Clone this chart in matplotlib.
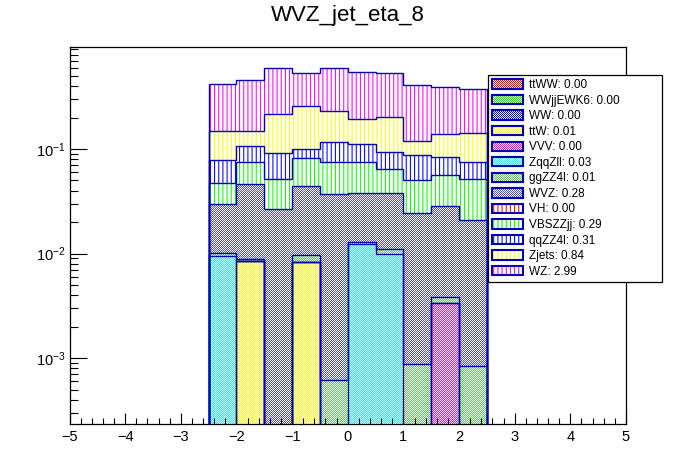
import numpy as np
import matplotlib
matplotlib.use('Agg')
import matplotlib.pyplot as plt
from matplotlib.patches import Patch, PathPatch
from matplotlib.legend_handler import HandlerTuple
from matplotlib.colors import to_rgba
from matplotlib.ticker import MultipleLocator, LogLocator, NullFormatter, LogFormatterSciNotation

plt.rcParams['font.family'] = ['Liberation Sans', 'DejaVu Sans']
plt.rcParams['mathtext.fontset'] = 'custom'
plt.rcParams['mathtext.rm'] = 'Liberation Sans'
plt.rcParams['mathtext.it'] = 'Liberation Sans:italic'
plt.rcParams['mathtext.bf'] = 'Liberation Sans:bold'
plt.rcParams['hatch.linewidth'] = 0.75

# ---------------- data ----------------
title = 'WVZ_jet_eta_8'
bin_edges = [-2.5, -2.0, -1.5, -1.0, -0.5, 0.0, 0.5, 1.0, 1.5, 2.0, 2.5]
processes = ['ttWW', 'WWjjEWK6', 'WW', 'ttW', 'VVV', 'ZqqZll', 'ggZZ4l',
             'WVZ', 'VH', 'VBSZZjj', 'qqZZ4l', 'Zjets', 'WZ']
legend_yields = ['0.00', '0.00', '0.00', '0.01', '0.00', '0.03', '0.01',
                 '0.28', '0.00', '0.29', '0.31', '0.84', '2.99']

ttWW = [0, 0, 0, 0, 0, 0, 0, 0, 0, 0]
WWjjEWK6 = [0, 0, 0, 0, 0, 0, 0, 0, 0, 0]
WW = [0, 0, 0, 0, 0, 0, 0, 0, 0, 0]
ttW = [0, 0.00844, 0, 0.00826, 0, 0, 0, 0, 0, 0]
VVV = [0, 0, 0, 0, 0, 0, 0, 0, 0.00335, 0]
ZqqZll = [0.00955, 0, 0, 0, 0, 0.01227, 0.00985, 0, 0, 0]
ggZZ4l = [0.0005, 0.0005, 0, 0.00137, 0.000615, 0.00055, 0.00115, 0.000874, 0.00047, 0.000837]
WVZ = [0.01955, 0.03706, 0.0265, 0.03437, 0.03629, 0.02488, 0.0267, 0.02343, 0.02448, 0.01996]
VH = [0, 0, 0, 0, 0, 0, 0, 0, 0, 0]
VBSZZjj = [0.0174, 0.0286, 0.0248, 0.0375, 0.0377, 0.0369, 0.0263, 0.0259, 0.0278, 0.0305]
qqZZ4l = [0.0315, 0.0315, 0.0397, 0.0178, 0.0413, 0.0363, 0.029, 0.0369, 0.0283, 0.0233]
Zjets = [0.0691, 0.0415, 0.1236, 0.1567, 0.1134, 0.0813, 0.1106, 0.0314, 0.0537, 0.0667]
WZ = [0.2679, 0.306, 0.3763, 0.2733, 0.3616, 0.3489, 0.3257, 0.2906, 0.2509, 0.2309]

values = {'ttWW': ttWW, 'WWjjEWK6': WWjjEWK6, 'WW': WW, 'ttW': ttW, 'VVV': VVV,
          'ZqqZll': ZqqZll, 'ggZZ4l': ggZZ4l, 'WVZ': WVZ, 'VH': VH,
          'VBSZZjj': VBSZZjj, 'qqZZ4l': qqZZ4l, 'Zjets': Zjets, 'WZ': WZ}

# ---------------- styles ----------------
styles = {
    'ttWW': ('#ff0000', 'checker'),
    'WWjjEWK6': ('#00ee00', 'checker'),
    'WW': ('#0000ff', 'checker'),
    'ttW': ('#ffff00', 'checker'),
    'VVV': ('#ff00ff', 'checker'),
    'ZqqZll': ('#00ffff', 'checker'),
    'ggZZ4l': ('#55c855', 'checker'),
    'WVZ': ('#4c4cd6', 'checker'),
    'VH': ('#ff0000', 'vline'),
    'VBSZZjj': ('#00ff00', 'vline'),
    'qqZZ4l': ('#0000ff', 'vline'),
    'Zjets': ('#ffff00', 'vline'),
    'WZ': ('#ff00ff', 'vline'),
}
outline = '#0000b0'
HATCH = '||||'

W, H = 696, 472
fig = plt.figure(figsize=(W / 100, H / 100), dpi=100)
ax = fig.add_axes([69.5 / W, 1 - 424 / H, (626 - 69.5) / W, (424 - 47.3) / H])
ax.set_yscale('log')
ax.set_xlim(-5, 5)
ax.set_ylim(2.35e-4, 0.938)
ax.set_autoscale_on(False)

# full-figure pixel grid for 1:1 checker textures
ii, jj = np.indices((H, W))
cmask = (ii + jj) % 2 == 0


def checker(color):
    arr = np.ones((H, W, 4))
    arr[cmask] = to_rgba(color)
    return arr


edges = np.array(bin_edges)
bottom = np.zeros(len(edges) - 1)
tops = []
for p in processes:
    v = np.array(values[p], dtype=float)
    top = bottom + v
    color, kind = styles[p]
    if np.any(v > 0):
        if kind == 'checker':
            sp = ax.stairs(top, edges, baseline=bottom, fill=True,
                           facecolor='none', edgecolor='none', zorder=1)
            im = ax.imshow(checker(color), extent=(0, 1, 0, 1),
                           transform=fig.transFigure, interpolation='nearest',
                           aspect='auto', zorder=1, resample=False)
            im.set_clip_path(sp)
        else:
            ax.stairs(top, edges, baseline=bottom, fill=True, facecolor='white',
                      edgecolor=color, hatch=HATCH, linewidth=0, zorder=1)
        tops.append(top.copy())
    bottom = top

for top in tops:
    ax.stairs(top, edges, baseline=0, fill=False, color=outline,
              linewidth=1.0, zorder=3)

ax.set_xlim(-5, 5)
ax.set_ylim(2.35e-4, 0.938)

# ---------------- axes styling ----------------
ax.set_xticks(range(-5, 6))
ax.xaxis.set_minor_locator(MultipleLocator(0.2))
ax.yaxis.set_major_locator(LogLocator(base=10))
ax.yaxis.set_minor_locator(LogLocator(base=10, subs=np.arange(2, 10)))
ax.yaxis.set_major_formatter(LogFormatterSciNotation())
ax.yaxis.set_minor_formatter(NullFormatter())
ax.tick_params(which='both', direction='in', top=False, right=False, width=0.8,
               labelsize=10.5)
ax.tick_params(axis='x', which='major', length=8, pad=4)
ax.tick_params(axis='x', which='minor', length=4)
ax.tick_params(axis='y', which='major', length=12.5, pad=3)
ax.tick_params(axis='y', which='minor', length=6)
for s in ax.spines.values():
    s.set_linewidth(0.9)
    s.set_zorder(5)

fig.text(0.5, 1 - 21 / H, title, ha='center', va='baseline', fontsize=16)

# ---------------- legend ----------------
handles, labels = [], []
for p, y in zip(processes, legend_yields):
    color, kind = styles[p]
    if kind == 'checker':
        fp = Patch(facecolor='white', edgecolor='none', linewidth=0)
    else:
        fp = Patch(facecolor='white', edgecolor=color, hatch=HATCH, linewidth=0)
    bp = Patch(facecolor='none', edgecolor=outline, linewidth=1.5)
    handles.append((fp, bp))
    labels.append(f'{p}: {y}')

leg = fig.legend(handles, labels,
                 handler_map={tuple: HandlerTuple(ndivide=1, pad=0)},
                 loc='upper left',
                 bbox_to_anchor=(488 / W, 1 - 284 / H, 174 / W, 209 / H),
                 bbox_transform=fig.transFigure, mode='expand',
                 borderaxespad=0, frameon=True, fancybox=False,
                 edgecolor='black', framealpha=1, fontsize=8.5,
                 handlelength=2.6, handleheight=0.85, handletextpad=0.5,
                 labelspacing=0.3, borderpad=0.35)
leg.get_frame().set_linewidth(0.9)

fig.canvas.draw()
for p, h in zip(processes, leg.legend_handles):
    color, kind = styles[p]
    if kind == 'checker':
        im = fig.figimage(checker(color), xo=0, yo=0, zorder=10)
        im.set_clip_path(h)
        pp = PathPatch(h.get_path(), transform=h.get_transform(), fill=False,
                       edgecolor=outline, linewidth=1.5, zorder=11)
        fig.add_artist(pp)

fig.savefig('out.png', dpi=100)
